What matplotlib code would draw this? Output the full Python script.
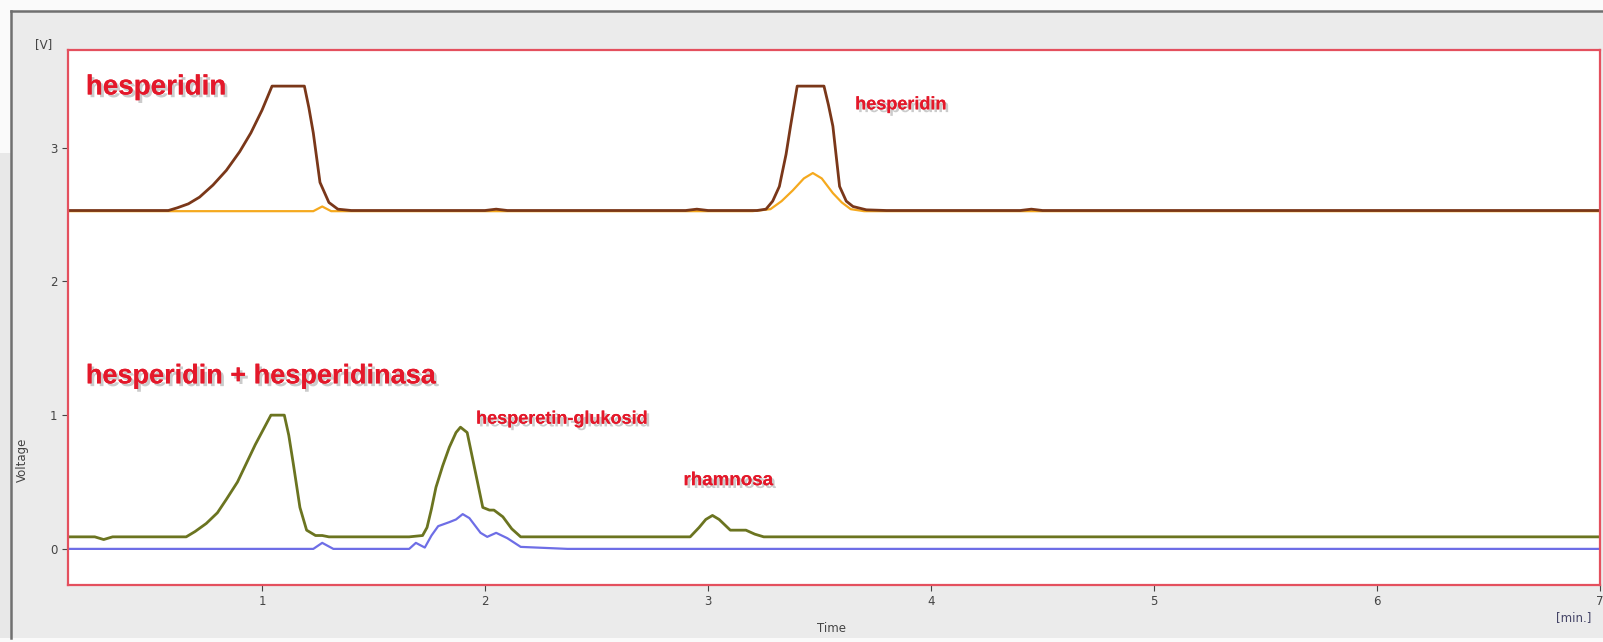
import numpy as np
import matplotlib
matplotlib.use("Agg")
import matplotlib.pyplot as plt
import matplotlib.patheffects as pe
from matplotlib.patches import Rectangle
from matplotlib.lines import Line2D

# top chromatogram, hesperidin standard (two detector channels)
brown_t = [0.13, 0.58, 0.62, 0.67, 0.72, 0.78, 0.84, 0.90, 0.95, 1.00, 1.045, 1.19, 1.21, 1.23, 1.26, 1.30, 1.34,
           1.40, 2.00, 2.05, 2.10, 2.90, 2.95, 3.00, 3.22, 3.26, 3.29, 3.32, 3.35, 3.37, 3.40, 3.52, 3.54, 3.56,
           3.59, 3.62, 3.65, 3.71, 3.80, 4.40, 4.45, 4.50, 7.00]
brown_v = [2.53, 2.53, 2.55, 2.58, 2.63, 2.72, 2.83, 2.97, 3.11, 3.28, 3.46, 3.46, 3.30, 3.11, 2.74, 2.59, 2.54,
           2.53, 2.53, 2.54, 2.53, 2.53, 2.54, 2.53, 2.53, 2.54, 2.60, 2.71, 2.95, 3.16, 3.46, 3.46, 3.32, 3.16,
           2.71, 2.60, 2.56, 2.535, 2.53, 2.53, 2.54, 2.53, 2.53]
orange_t = [0.13, 1.23, 1.27, 1.31, 3.20, 3.28, 3.33, 3.38, 3.43, 3.47, 3.51, 3.56, 3.60, 3.64, 3.70, 7.00]
orange_v = [2.525, 2.525, 2.56, 2.525, 2.525, 2.54, 2.60, 2.68, 2.77, 2.81, 2.77, 2.66, 2.59, 2.54, 2.525, 2.525]

# bottom chromatogram, hesperidin + hesperidinasa
green_t = [0.13, 0.25, 0.29, 0.33, 0.66, 0.70, 0.75, 0.80, 0.84, 0.89, 0.93, 0.97, 1.005, 1.04, 1.10, 1.12, 1.14,
           1.17, 1.20, 1.24, 1.27, 1.30, 1.66, 1.72, 1.74, 1.76, 1.78, 1.81, 1.84, 1.87, 1.89, 1.92, 1.955,
           1.99, 2.02, 2.04, 2.08, 2.12, 2.16, 2.92, 2.96, 2.99, 3.02, 3.05, 3.10, 3.17, 3.21, 3.25, 7.00]
green_v = [0.09, 0.09, 0.07, 0.09, 0.09, 0.13, 0.19, 0.27, 0.37, 0.50, 0.64, 0.78, 0.89, 1.00, 1.00, 0.85, 0.64,
           0.31, 0.14, 0.10, 0.10, 0.09, 0.09, 0.10, 0.16, 0.30, 0.46, 0.62, 0.76, 0.87, 0.91, 0.87, 0.59,
           0.31, 0.29, 0.29, 0.24, 0.15, 0.09, 0.09, 0.16, 0.22, 0.25, 0.22, 0.14, 0.14, 0.11, 0.09, 0.09]
blue_t = [0.13, 1.23, 1.27, 1.32, 1.66, 1.69, 1.73, 1.76, 1.79, 1.84, 1.87, 1.90, 1.93, 1.98, 2.01, 2.05, 2.10,
          2.16, 2.37, 7.00]
blue_v = [0.0, 0.0, 0.045, 0.0, 0.0, 0.045, 0.01, 0.10, 0.17, 0.20, 0.22, 0.26, 0.23, 0.12, 0.09, 0.12, 0.08,
          0.015, 0.0, 0.0]

x_ticks = [1, 2, 3, 4, 5, 6, 7]
y_ticks = [0, 1, 2, 3]

red = "#e4182a"
shadow = [pe.withSimplePatchShadow(offset=(2, -2), shadow_rgbFace="#6a6a6a", alpha=0.35), pe.Normal()]

fig = plt.figure(figsize=(16.03, 6.42), dpi=100, facecolor="#fafafa")

# screenshot window panel behind the plot
fig.patches.append(Rectangle((11 / 1603, 4 / 642), 1, 627 / 642, transform=fig.transFigure,
                             facecolor="#ebebeb", edgecolor="none", zorder=-2))
fig.patches.append(Rectangle((0, 4 / 642), 11 / 1603, 485 / 642, transform=fig.transFigure,
                             facecolor="#e8e8e8", edgecolor="none", zorder=-2))
fig.lines.append(Line2D([11 / 1603, 1], [631 / 642, 631 / 642], transform=fig.transFigure,
                        color="#707070", lw=1.8))
fig.lines.append(Line2D([11 / 1603, 11 / 1603], [4 / 642, 631 / 642], transform=fig.transFigure,
                        color="#707070", lw=1.8))

ax = fig.add_axes([68 / 1603, 57 / 642, 1532 / 1603, 535 / 642])
ax.set_facecolor("white")

ax.plot(orange_t, orange_v, color="#f5a91e", lw=1.6)
ax.plot(brown_t, brown_v, color="#7a3719", lw=2.0)
ax.plot(blue_t, blue_v, color="#6e6ee6", lw=1.6)
ax.plot(green_t, green_v, color="#6b7420", lw=2.0)

ax.set_xlim(0.13, 7.0)
ax.set_ylim(-0.27, 3.73)
ax.set_xticks(x_ticks)
ax.set_yticks(y_ticks)
ax.tick_params(labelsize=8.5, colors="#444444", length=4, width=0.8)
for s in ax.spines.values():
    s.set_color("#e4505e")
    s.set_linewidth(1.6)

# labels
ax.text(0.21, 3.45, "hesperidin", color=red, fontsize=20, fontweight="bold",
        family="Liberation Sans", va="center", path_effects=shadow)
ax.text(0.21, 1.29, "hesperidin + hesperidinasa", color=red, fontsize=19.5, fontweight="bold",
        family="Liberation Sans", va="center", path_effects=shadow)
ax.text(3.66, 3.32, "hesperidin", color=red, fontsize=13, fontweight="bold",
        family="Liberation Sans", va="center", path_effects=shadow)
ax.text(1.96, 0.97, "hesperetin-glukosid", color=red, fontsize=13, fontweight="bold",
        family="Liberation Sans", va="center", path_effects=shadow)
ax.text(2.89, 0.51, "rhamnosa", color=red, fontsize=13.5, fontweight="bold",
        family="Liberation Sans", va="center", path_effects=shadow)

fig.text(44 / 1603, 1 - 45 / 642, "[V]", fontsize=8.5, color="#444444", ha="center", va="center")
fig.text(22 / 1603, 1 - 460 / 642, "Voltage", fontsize=8.5, color="#444444", rotation=90,
         ha="center", va="center")
fig.text(832 / 1603, 1 - 629 / 642, "Time", fontsize=8.5, color="#444444", ha="center", va="center")
fig.text(1574 / 1603, 1 - 618 / 642, "[min.]", fontsize=8.5, color="#444466", ha="center", va="center")

fig.savefig("out.png", dpi=100, facecolor=fig.get_facecolor())
